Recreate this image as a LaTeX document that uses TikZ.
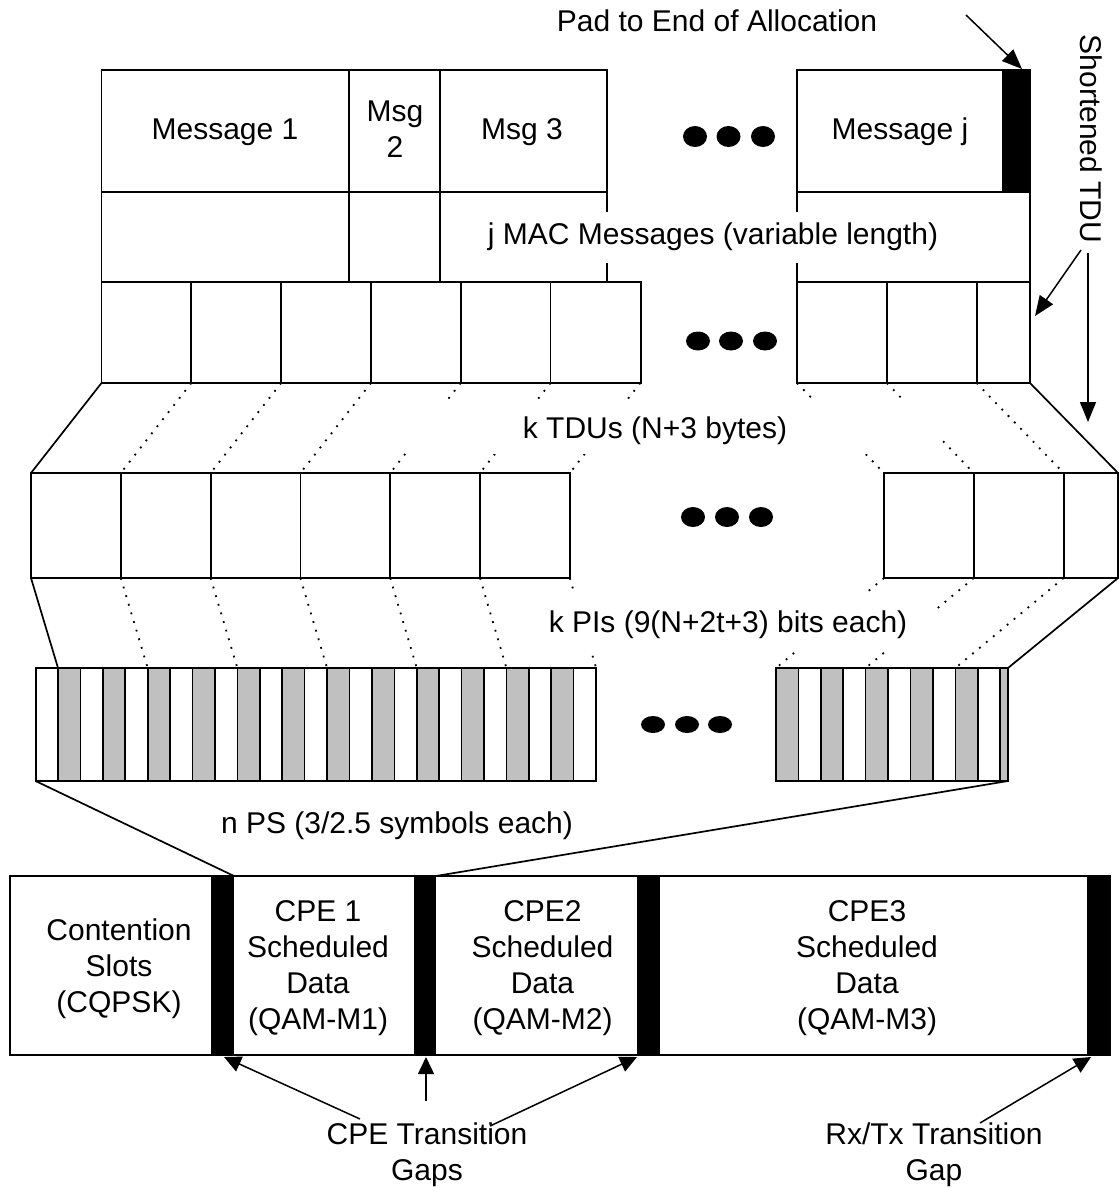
\documentclass[tikz,border=0pt]{standalone}
\usepackage{fontspec}
\setmainfont{Liberation Sans}
\usetikzlibrary{arrows.meta}
\definecolor{psgray}{RGB}{192,192,192}
\begin{document}
\begin{tikzpicture}[x=1pt,y=-1pt,
  box/.style={draw=black,line width=1.8pt},
  thinrule/.style={draw=black,line width=1.6pt},
  dotline/.style={draw=black,line width=1.8pt,dash pattern=on 1.8pt off 7.2pt},
  link/.style={draw=black,line width=1.7pt},
  lbl/.style={font=\fontsize{30}{36}\selectfont,inner sep=0pt,align=center},
  arr/.style={draw=black,line width=1.5pt,-{Triangle[length=20pt,width=16pt]}},
  garr/.style={draw=black,line width=1.5pt,-{Triangle[length=17pt,width=16pt]}},
  padfill/.style={fill=black}]
\useasboundingbox (0,0) rectangle (1119,1187);

% ---------- coordinates ----------
\foreach \i in {0,...,6} {
  \coordinate (tdub\i) at ({101.5+\i*89.8},383);
  \coordinate (pit\i) at ({31+\i*89.8},473);
  \coordinate (pib\i) at ({31+\i*89.8},578);
  \coordinate (pst\i) at ({58.02+\i*89.68},668);
}
\coordinate (rtdub0) at (797,383);   \coordinate (rtdub1) at (886.8,383);
\coordinate (rtdub2) at (976.6,383); \coordinate (rtdub3) at (1030,383);
\coordinate (rpit0) at (884,473);    \coordinate (rpit1) at (973.8,473);
\coordinate (rpit2) at (1063.6,473); \coordinate (rpit3) at (1118,473);
\coordinate (rpib0) at (884,578);    \coordinate (rpib1) at (973.8,578);
\coordinate (rpib2) at (1063.6,578); \coordinate (rpib3) at (1118,578);
\coordinate (rpst0) at (776,668);    \coordinate (rpst1) at (865.7,668);
\coordinate (rpst2) at (955.4,668);  \coordinate (rpst3) at (1008,668);
\coordinate (psbl) at (35.6,781);    \coordinate (psbr) at (1008,781);
\coordinate (gap1top) at (234,876);  \coordinate (gap2top) at (436,876);

% ---------- message rows ----------
\draw[box] (101.5,70) rectangle (607,192);
\draw[box] (349,70) -- (349,282);
\draw[box] (440,70) -- (440,282);
\draw[box] (101.5,192) -- (101.5,282);
\draw[box] (607,192) -- (607,282);
\fill[padfill] (1002,70) rectangle (1030,192);
\draw[box] (797,70) rectangle (1030,192);
\draw[box] (797,192) -- (797,282);
\draw[box] (1030,192) -- (1030,282);

% ---------- TDU row ----------
\draw[box] (101.5,282) rectangle (640.8,383);
\foreach \i in {1,...,5} \draw[box] ({101.5+\i*89.8},282) -- ({101.5+\i*89.8},383);
\draw[box] (797,282) rectangle (1030,383);
\draw[box] (886.8,282) -- (886.8,383);
\draw[box] (976.6,282) -- (976.6,383);

% ---------- PI row ----------
\draw[box] (31,473) rectangle (569.8,578);
\foreach \i in {1,...,5} \draw[box] ({31+\i*89.8},473) -- ({31+\i*89.8},578);
\draw[box] (884,473) rectangle (1118,578);
\draw[box] (973.8,473) -- (973.8,578);
\draw[box] (1063.6,473) -- (1063.6,578);

% ---------- PS row ----------
\foreach \i in {1,3,...,23} \fill[psgray] ({35.6+\i*22.42},668) rectangle ({35.6+(\i+1)*22.42},781);
\foreach \i in {1,...,24} \draw[thinrule] ({35.6+\i*22.42},668) -- ({35.6+\i*22.42},781);
\draw[box] (35.6,668) rectangle (596.1,781);
\foreach \i in {0,2,...,8} \fill[psgray] ({776+\i*22.42},668) rectangle ({776+(\i+1)*22.42},781);
\fill[psgray] (1000.2,668) rectangle (1008,781);
\foreach \i in {1,...,10} \draw[thinrule] ({776+\i*22.42},668) -- ({776+\i*22.42},781);
\draw[box] (776,668) rectangle (1008,781);

% ---------- connectors between rows ----------
\draw[link] (tdub0) -- (pit0);
\foreach \i in {1,...,6} \draw[dotline] (tdub\i) -- (pit\i);
\foreach \i in {0,1,2} \draw[dotline] (rtdub\i) -- (rpit\i);
\draw[link] (rtdub3) -- (rpit3);
\draw[link] (pib0) -- (pst0);
\foreach \i in {1,...,6} \draw[dotline] (pib\i) -- (pst\i);
\foreach \i in {0,1,2} \draw[dotline] (rpib\i) -- (rpst\i);
\draw[link] (rpib3) -- (rpst3);
\draw[link] (psbl) -- (gap1top);
\draw[link] (psbr) -- (gap2top);

% ---------- ellipsis dots ----------
\foreach \x in {695,728.5,763} \fill (\x,136.5) ellipse [x radius=12, y radius=10.5];
\foreach \x in {698,731,765} \fill (\x,341) ellipse [x radius=12, y radius=9.5];
\foreach \x in {693,727,761} \fill (\x,517) ellipse [x radius=12, y radius=10];
\foreach \x in {653,687,720} \fill (\x,724.5) ellipse [x radius=12, y radius=8.5];

% ---------- bottom frame ----------
\draw[box] (10,876) rectangle (1110,1055);
\fill[black] (211,876) rectangle (234,1055);
\fill[black] (414,876) rectangle (436,1055);
\fill[black] (637,876) rectangle (660,1055);
\fill[black] (1087,876) rectangle (1109,1055);

% ---------- labels ----------
\node[lbl] (padlbl) at (717,21) {Pad to End of Allocation};
\node[lbl] (m1) at (225,132) {Message 1};
\node[lbl] (m2) at (395,129.5) {Msg\\2};
\node[lbl] (m3) at (522,132) {Msg 3};
\node[lbl] (mj) at (900,132) {Message j};
\node[lbl,fill=white,inner xsep=4pt,minimum height=51pt] (jmac) at (713,237) {j MAC Messages (variable length)};
\fill[white] (405,401) rectangle (940,454);
\node[lbl] (ktdu) at (655,431) {k TDUs (N+3 bytes)};
\fill[white] (550,594) rectangle (934,650);
\node[lbl] (kpi) at (728,625) {k PIs (9(N+2t+3) bits each)};
\node[lbl] (nps) at (397,826) {n PS (3/2.5 symbols each)};
\node[lbl,rotate=-90] (stdu) at (1091,139) {Shortened TDU};
\node[lbl] (cont) at (119,969) {Contention\\Slots\\(CQPSK)};
\node[lbl] (cpe1) at (318,968) {CPE 1\\Scheduled\\Data\\(QAM-M1)};
\node[lbl] (cpe2) at (542.5,968) {CPE2\\Scheduled\\Data\\(QAM-M2)};
\node[lbl] (cpe3) at (867,968) {CPE3\\Scheduled\\Data\\(QAM-M3)};
\node[lbl] (cpegap) at (427,1155) {CPE Transition\\Gaps};
\node[lbl] (rxgap) at (934,1155) {Rx/Tx Transition\\Gap};

% ---------- arrows ----------
\coordinate (padtail) at (966,15);   \coordinate (padtip) at (1022,69);
\coordinate (st1a) at (1081,250);    \coordinate (st1b) at (1035,316);
\coordinate (st2a) at (1088,253);    \coordinate (st2b) at (1088,422);
\coordinate (g1a) at (360,1119);     \coordinate (g1b) at (224,1057);
\coordinate (g2a) at (426,1101);     \coordinate (g2b) at (426,1057);
\coordinate (g3a) at (490,1126);     \coordinate (g3b) at (637,1057);
\coordinate (g4a) at (980,1123);     \coordinate (g4b) at (1091,1057);
\draw[arr] (padtail) -- (padtip);
\draw[arr] (st1a) -- (st1b);
\draw[arr] (st2a) -- (st2b);
\draw[garr] (g1a) -- (g1b);
\draw[garr] (g2a) -- (g2b);
\draw[garr] (g3a) -- (g3b);
\draw[garr] (g4a) -- (g4b);
\end{tikzpicture}
\end{document}
